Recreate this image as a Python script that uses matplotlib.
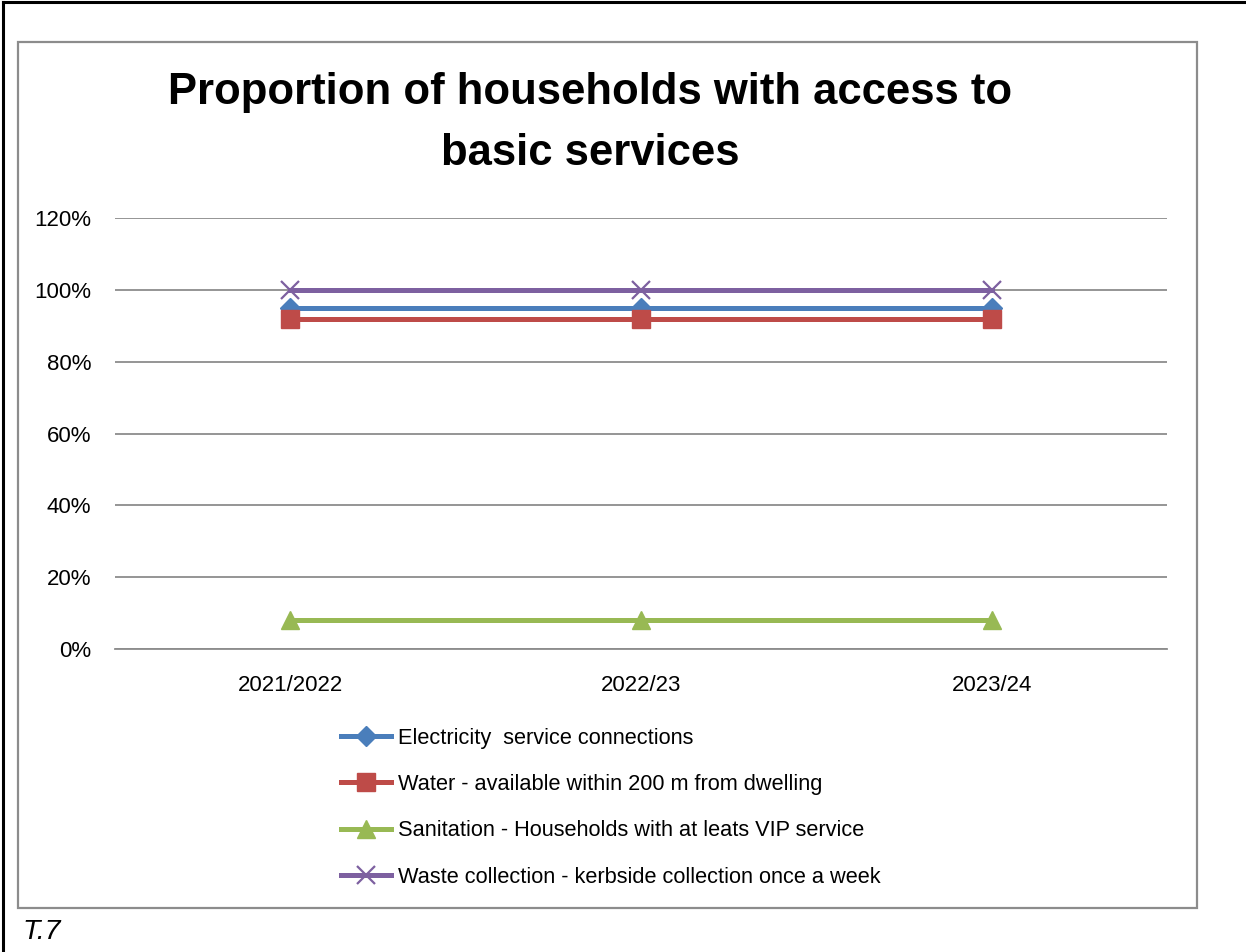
import matplotlib
matplotlib.use('Agg')
import matplotlib.pyplot as plt
from matplotlib.lines import Line2D
from matplotlib.patches import Rectangle

plt.rcParams['font.family'] = ['Liberation Sans Narrow', 'Liberation Sans', 'DejaVu Sans']

years = ['2021/2022', '2022/23', '2023/24']
electricity = [0.95, 0.95, 0.95]
water = [0.92, 0.92, 0.92]
sanitation = [0.08, 0.08, 0.08]
waste = [1.00, 1.00, 1.00]
labels = ['Electricity  service connections',
          'Water - available within 200 m from dwelling',
          'Sanitation - Households with at leats VIP service',
          'Waste collection - kerbside collection once a week']
yticks = [0, 0.2, 0.4, 0.6, 0.8, 1.0, 1.2]

fig = plt.figure(figsize=(12.46, 9.52), dpi=100)
W, H = 1246, 952

# outer page frame
fig.add_artist(Line2D([3 / W, 3 / W], [0, 1 - 2 / H], color='black', lw=2.2))
fig.add_artist(Line2D([3 / W, 1], [1 - 2 / H, 1 - 2 / H], color='black', lw=2.2))
# chart area box
fig.add_artist(Rectangle((18 / W, 1 - 908 / H), (1197 - 18) / W, (908 - 42) / H,
                         fill=False, edgecolor='#8c8c8c', lw=1.6))

ax = fig.add_axes([115 / W, 1 - 649 / H, (1167 - 115) / W, (649 - 218) / H])
x = range(len(years))
ax.plot(x, electricity, color='#4A7EBB', lw=3.6, marker='D', ms=10, label=labels[0])
ax.plot(x, water, color='#BE4B48', lw=3.6, marker='s', ms=13, label=labels[1])
ax.plot(x, sanitation, color='#98B954', lw=3.6, marker='^', ms=13, label=labels[2])
ax.plot(x, waste, color='#7D60A0', lw=3.6, marker='x', ms=13, mew=1.6, label=labels[3])

ax.set_xlim(-0.5, 2.5)
ax.set_ylim(0, 1.2)
ax.set_yticks(yticks)
ax.set_yticklabels(['%d%%' % round(v * 100) for v in yticks])
ax.set_xticks(list(x))
ax.set_xticklabels(years)
ax.grid(axis='y', color='#8c8c8c', lw=1.3)
ax.set_axisbelow(True)
for s in ['top', 'right', 'left']:
    ax.spines[s].set_visible(False)
ax.spines['bottom'].set_color('#8c8c8c')
ax.spines['bottom'].set_linewidth(1.3)
ax.tick_params(axis='both', length=0, labelsize=16, colors='black')
ax.tick_params(axis='y', pad=17)
ax.tick_params(axis='x', pad=19)

fig.text(590 / W, 1 - 123 / H, 'Proportion of households with access to\nbasic services',
         ha='center', va='center', fontsize=31.4, fontweight='bold', linespacing=1.6)

leg = fig.legend(loc='upper left', bbox_to_anchor=(321 / W, 1 - 708 / H), frameon=False,
                 fontsize=15.7, handlelength=2.3, handletextpad=0.35, labelspacing=1.16)

fig.text(22 / W, 1 - 932 / H, 'T.7', fontsize=20.5, style='italic', va='center', ha='left')

fig.savefig('out.png', dpi=100)
